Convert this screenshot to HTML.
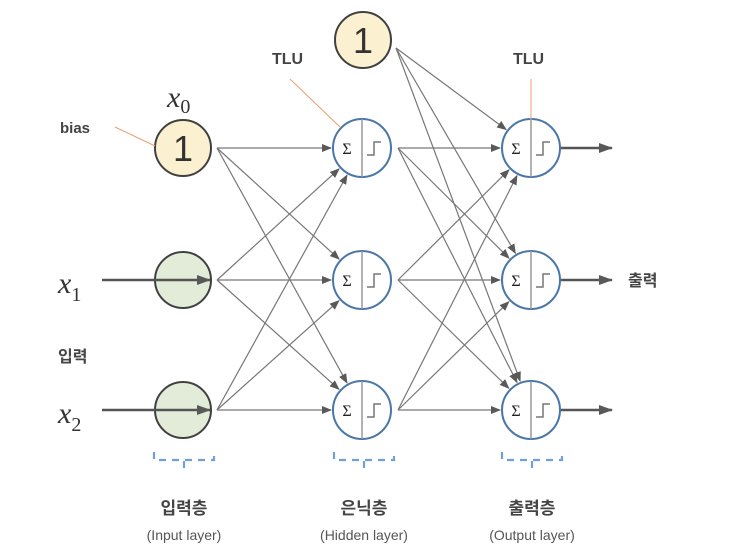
<!DOCTYPE html>
<html><head><meta charset="utf-8"><style>
html,body{margin:0;padding:0;background:#fff;width:732px;height:560px;overflow:hidden}
text{font-family:"Liberation Sans","Noto Sans CJK KR",sans-serif}
</style></head><body>
<svg id="s" width="732" height="560" viewBox="0 0 732 560" xmlns="http://www.w3.org/2000/svg">
<defs>
<marker id="a" markerWidth="10" markerHeight="8" refX="9" refY="4" orient="auto" markerUnits="userSpaceOnUse"><path d="M0,0 L10,4 L0,8 z" fill="#595959"/></marker>
<marker id="b" markerWidth="14" markerHeight="10" refX="13" refY="5" orient="auto" markerUnits="userSpaceOnUse"><path d="M0,0 L14,5 L0,10 z" fill="#595959"/></marker>
</defs>
<g id="lines" stroke="#777" stroke-width="1.2" fill="none"></g>
<!-- input nodes -->
<circle cx="183" cy="148" r="28" fill="#fbf0cf" stroke="#404040" stroke-width="2"/>
<text x="183" y="161" font-size="36" text-anchor="middle" fill="#333">1</text>
<circle cx="183" cy="280" r="28" fill="#e2ecd8" stroke="#404040" stroke-width="2"/>
<circle cx="183" cy="410" r="28" fill="#e2ecd8" stroke="#404040" stroke-width="2"/>
<circle cx="363" cy="40" r="28" fill="#fbf0cf" stroke="#404040" stroke-width="2"/>
<text x="363" y="53" font-size="36" text-anchor="middle" fill="#333">1</text>
<g stroke="#555" stroke-width="2.5" fill="none">
<line x1="102" y1="280" x2="210" y2="280" marker-end="url(#b)"/>
<line x1="102" y1="410" x2="210" y2="410" marker-end="url(#b)"/>
<line x1="560" y1="148" x2="612" y2="148" marker-end="url(#b)"/>
<line x1="560" y1="280" x2="612" y2="280" marker-end="url(#b)"/>
<line x1="560" y1="410" x2="612" y2="410" marker-end="url(#b)"/>
</g>
<g id="tlu"></g>
<line x1="115" y1="127" x2="155" y2="146" stroke="#e8a070" stroke-width="1"/>
<line x1="290" y1="79" x2="340" y2="127" stroke="#e8a070" stroke-width="1"/>
<line x1="531" y1="79" x2="531" y2="120" stroke="#e8a070" stroke-width="1"/>
<text x="60" y="133" font-size="15" font-weight="bold" fill="#444">bias</text>
<text x="272" y="64" font-size="16" font-weight="bold" fill="#444">TLU</text>
<text x="513" y="64" font-size="16" font-weight="bold" fill="#444">TLU</text>
<text x="167" y="107" font-size="30" font-style="italic" font-family="Liberation Serif,serif" fill="#333" style="font-family:'Liberation Serif',serif">x<tspan font-size="20" dy="6" font-style="normal">0</tspan></text>
<text x="58" y="293" font-size="30" font-style="italic" fill="#333" style="font-family:'Liberation Serif',serif">x<tspan font-size="20" dy="8" font-style="normal">1</tspan></text>
<text x="58" y="423" font-size="30" font-style="italic" fill="#333" style="font-family:'Liberation Serif',serif">x<tspan font-size="20" dy="8" font-style="normal">2</tspan></text>
<text x="58" y="362" font-size="16" font-weight="bold" fill="#444">입력</text>
<text x="628" y="286" font-size="16" font-weight="bold" fill="#444">출력</text>
<g stroke="#6fa0d8" stroke-width="2.2" fill="none" stroke-dasharray="7,6">
<path d="M154,452 V460 H214 V452"/><path d="M334,452 V460 H394 V452"/><path d="M502,452 V460 H562 V452"/>
</g>
<g stroke="#6fa0d8" stroke-width="2.2"><line x1="184" y1="461" x2="184" y2="468"/><line x1="364" y1="461" x2="364" y2="468"/><line x1="532" y1="461" x2="532" y2="468"/></g>
<g font-size="17" font-weight="bold" fill="#444" text-anchor="middle">
<text x="184" y="514">입력층</text><text x="364" y="514">은닉층</text><text x="532" y="514">출력층</text></g>
<g font-size="14" fill="#555" text-anchor="middle">
<text x="184" y="540">(Input layer)</text><text x="364" y="540">(Hidden layer)</text><text x="532" y="540">(Output layer)</text></g>
</svg>
<script>
var ns="http://www.w3.org/2000/svg",L=document.getElementById("lines"),T=document.getElementById("tlu");
function ln(x1,y1,cx,cy,r){var dx=cx-x1,dy=cy-y1,d=Math.sqrt(dx*dx+dy*dy);var e=document.createElementNS(ns,"line");
e.setAttribute("x1",x1);e.setAttribute("y1",y1);e.setAttribute("x2",cx-dx/d*(r+2));e.setAttribute("y2",cy-dy/d*(r+2));e.setAttribute("marker-end","url(#a)");L.appendChild(e);}
var ys=[148,280,410];
ys.forEach(function(s){ys.forEach(function(t){ln(217,s,362,t,29);});});
ys.forEach(function(t){ln(396,48,531,t,29);});
ys.forEach(function(s){ys.forEach(function(t){ln(398,s,531,t,29);});});
function tlu(cx,cy){T.innerHTML+='<circle cx="'+cx+'" cy="'+cy+'" r="29" fill="#fff" stroke="#4a77a8" stroke-width="2"/>'+
'<line x1="'+cx+'" y1="'+(cy-29)+'" x2="'+cx+'" y2="'+(cy+29)+'" stroke="#999" stroke-width="1.5"/>'+
'<text x="'+(cx-15)+'" y="'+(cy+6)+'" font-size="16" text-anchor="middle" fill="#222" style="font-family:\'Liberation Serif\',serif">Σ</text>'+
'<path d="M'+(cx+5)+','+(cy+7)+' H'+(cx+12)+' V'+(cy-6)+' H'+(cx+19)+'" stroke="#777" stroke-width="1.5" fill="none"/>';}
ys.forEach(function(y){tlu(362,y);tlu(531,y);});
</script>
</body></html>
